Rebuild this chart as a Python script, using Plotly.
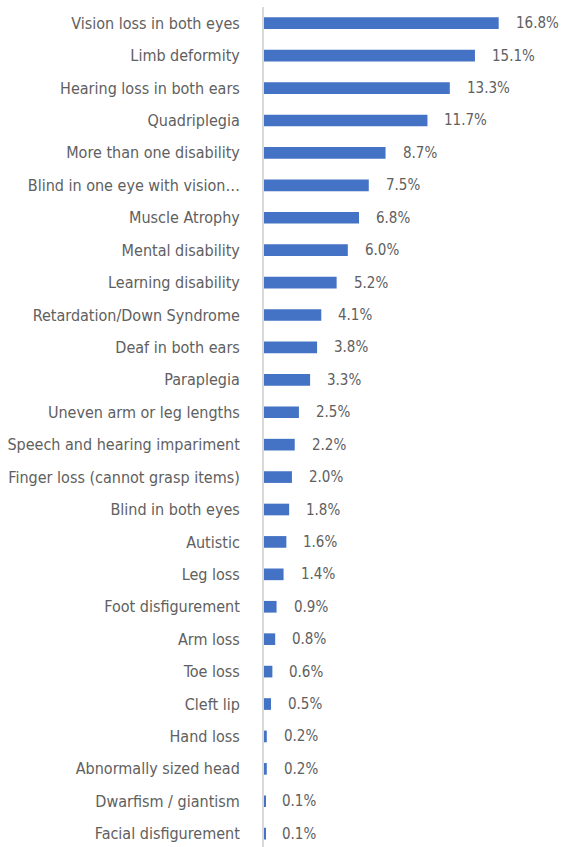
import plotly.graph_objects as go

categories = [
    "Vision loss in both eyes",
    "Limb deformity",
    "Hearing loss in both ears",
    "Quadriplegia",
    "More than one disability",
    "Blind in one eye with vision…",
    "Muscle Atrophy",
    "Mental disability",
    "Learning disability",
    "Retardation/Down Syndrome",
    "Deaf in both ears",
    "Paraplegia",
    "Uneven arm or leg lengths",
    "Speech and hearing impariment",
    "Finger loss (cannot grasp items)",
    "Blind in both eyes",
    "Autistic",
    "Leg loss",
    "Foot disfigurement",
    "Arm loss",
    "Toe loss",
    "Cleft lip",
    "Hand loss",
    "Abnormally sized head",
    "Dwarfism / giantism",
    "Facial disfigurement",
]
percentages = [16.8, 15.1, 13.3, 11.7, 8.7, 7.5, 6.8, 6.0, 5.2, 4.1, 3.8, 3.3, 2.5,
               2.2, 2.0, 1.8, 1.6, 1.4, 0.9, 0.8, 0.6, 0.5, 0.2, 0.2, 0.1, 0.1]

FONT = "DejaVu Sans Condensed, sans-serif"
TEXT_GRAY = "#606060"

fig = go.Figure(
    go.Bar(
        x=percentages,
        y=categories,
        orientation="h",
        width=0.36,
        marker=dict(color="#4472C4", line=dict(width=0)),
        hoverinfo="skip",
    )
)

# value labels just past the end of each bar
for cat, val in zip(categories, percentages):
    fig.add_annotation(
        x=val, y=cat, text=f"{val:.1f}%", showarrow=False,
        xanchor="left", yanchor="middle", xshift=15,
        font=dict(family=FONT, size=15, color=TEXT_GRAY),
    )

n = len(categories)
fig.update_layout(
    width=561, height=847,
    margin=dict(l=264, r=0, t=7, b=0),
    paper_bgcolor="white", plot_bgcolor="white",
    showlegend=False,
    xaxis=dict(range=[0, 21.26], visible=False, fixedrange=True),
    yaxis=dict(
        type="category",
        range=[n - 0.59, -0.5],
        showline=True, linecolor="#d9d9d9", linewidth=2,
        showgrid=False, zeroline=False, ticks="",
        ticklabelstandoff=19,
        tickfont=dict(family=FONT, size=16, color=TEXT_GRAY),
    ),
)

fig.write_html("out.html")
